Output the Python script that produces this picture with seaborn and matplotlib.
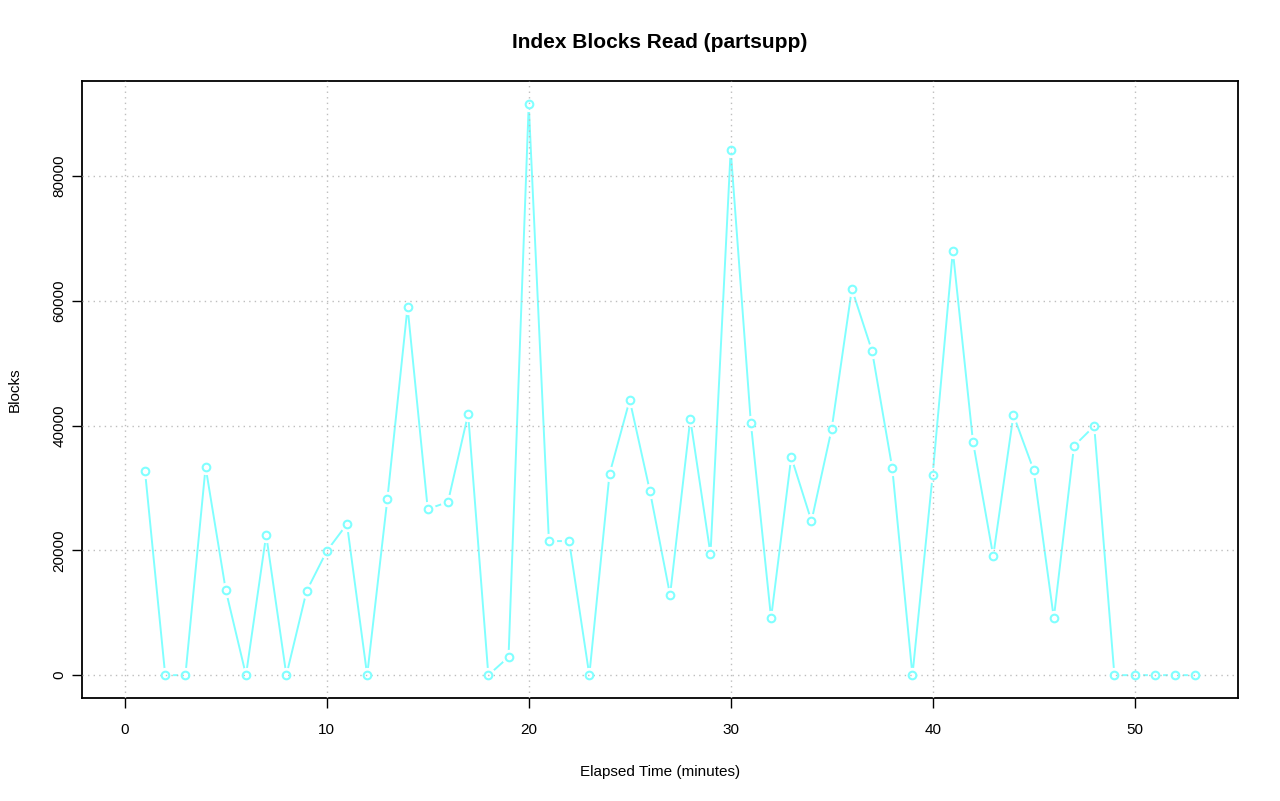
import matplotlib
matplotlib.use("Agg")
import matplotlib.pyplot as plt
import seaborn as sns
import pandas as pd
import numpy as np

# Elapsed minutes and index blocks read per minute
minutes = list(range(1, 54))
blocks = [32700, 0, 0, 33350, 13600, 0, 22450, 0, 13470, 19880,
          24210, 0, 28220, 59000, 26610, 27740, 41840, 0, 2890, 91540,
          21480, 21480, 0, 32220, 44090, 29500, 12830, 41040, 19400, 84170,
          40400, 9140, 34950, 24690, 39440, 61880, 51940, 33190, 0, 32060,
          67980, 37350, 19080, 41680, 32870, 9140, 36710, 39920, 0, 0,
          0, 0, 0]
xticks = [0, 10, 20, 30, 40, 50]
yticks = [0, 20000, 40000, 60000, 80000]

df = pd.DataFrame({"minute": minutes, "blocks": blocks})

sns.set_style("white")
plt.rcParams["font.family"] = ["Liberation Sans", "DejaVu Sans"]
plt.rcParams["text.color"] = "black"
plt.rcParams["axes.labelcolor"] = "black"
plt.rcParams["xtick.color"] = "black"
plt.rcParams["ytick.color"] = "black"

line_col = "#80FFFF"

fig = plt.figure(figsize=(12.8, 8.01), dpi=100)
ax = fig.add_axes([82 / 1280, 103 / 801, (1238 - 82) / 1280, (698 - 81) / 801])

sns.lineplot(data=df, x="minute", y="blocks", ax=ax, color=line_col,
             linewidth=1.4, zorder=2)
# white halo around points, like R type="b"
ax.plot(df["minute"], df["blocks"], linestyle="none", marker="o",
        markersize=10, markerfacecolor="white", markeredgecolor="white", zorder=2.5)
for t in xticks:
    ax.axvline(t, color="#BEBEBE", linestyle=(0, (1, 3)), linewidth=1.0, zorder=3)
for t in yticks:
    ax.axhline(t, color="#BEBEBE", linestyle=(0, (1, 3)), linewidth=1.0, zorder=3)
ax.plot(df["minute"], df["blocks"], linestyle="none", marker="o",
        markersize=5.5, markerfacecolor="none", markeredgecolor=line_col,
        markeredgewidth=1.5, zorder=4)

xr = (0, 53)
yr = (0, max(blocks))
ax.set_xlim(xr[0] - 0.04 * (xr[1] - xr[0]), xr[1] + 0.04 * (xr[1] - xr[0]))
ax.set_ylim(yr[0] - 0.04 * (yr[1] - yr[0]), yr[1] + 0.04 * (yr[1] - yr[0]))
ax.set_xticks(xticks)
ax.set_yticks(yticks)
ax.set_xticklabels([str(t) for t in xticks], fontsize=11)
ax.set_yticklabels([str(t) for t in yticks], fontsize=11, rotation=90, va="center")
ax.tick_params(bottom=True, left=True, direction="out", length=7, width=1,
               color="black", labelcolor="black")
ax.tick_params(axis="x", pad=11)
ax.tick_params(axis="y", pad=4)
for s in ax.spines.values():
    s.set_color("black")
    s.set_linewidth(1.3)

ax.set_xlabel("Elapsed Time (minutes)", fontsize=11, labelpad=20)
ax.set_ylabel("Blocks", fontsize=11, labelpad=22)
ax.set_title("Index Blocks Read (partsupp)", fontsize=15, fontweight="bold",
             pad=24, color="black")

fig.savefig("out.png", dpi=100)
